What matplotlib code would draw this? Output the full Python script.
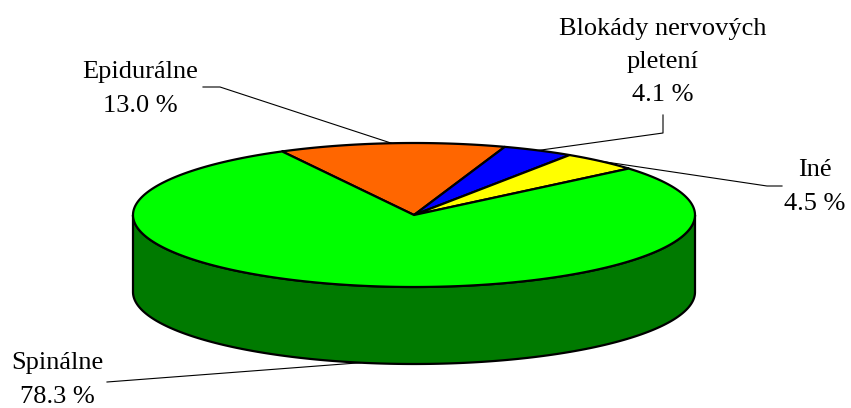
import numpy as np
import matplotlib.pyplot as plt
from matplotlib.patches import Polygon

# Data
labels = ["Epidurálne", "Blokády nervových\npletení", "Iné", "Spinálne"]
values = [13.0, 4.1, 4.5, 78.3]
top_colors = ["#FF6600", "#0000FF", "#FFFF00", "#00FF00"]
side_colors = ["#B34700", "#0000B3", "#B3B300", "#007A00"]

# geometry of the 3d pie (pixel units)
cx, cy = 414, 215
a, b = 281, 72
depth = 77
start = 118.0  # degrees, slices go clockwise

# label positions (block centers) and leader elbows
label_pos = [(140, 89), (663, 62), (815, 187), (57, 380)]
elbows = [[(203, 87), (220, 87)], [(663, 115), (663, 133)],
          [(782, 186), (767, 186)], [(107, 382)]]


def ell(t, dz=0):
    t = np.radians(t)
    return np.column_stack([cx + a * np.cos(t), cy - b * np.sin(t) + dz])


fig = plt.figure(figsize=(8.51, 4.08), dpi=100)
ax = fig.add_axes([0, 0, 1, 1])
ax.set_xlim(0, 851)
ax.set_ylim(408, 0)
ax.axis("off")

total = sum(values)
angles = []
t = start
for v in values:
    t2 = t - v / total * 360
    angles.append((t2, t))
    t = t2

# side walls (only front half 180..360 visible)
for (t1, t2), col in zip(angles, side_colors):
    for k in (-1, 0, 1):
        lo = max(t1, 180 + 360 * k - 360)
        hi = min(t2, 360 + 360 * k - 360)
        if hi > lo:
            ts = np.linspace(lo, hi, 200)
            pts = np.vstack([ell(ts), ell(ts[::-1], depth)])
            ax.add_patch(Polygon(pts, closed=True, fc=col, ec="black", lw=1.6, zorder=1))

# top face
for (t1, t2), col in zip(angles, top_colors):
    ts = np.linspace(t1, t2, 300)
    pts = np.vstack([[cx, cy], ell(ts)])
    ax.add_patch(Polygon(pts, closed=True, fc=col, ec="black", lw=1.6,
                         joinstyle="round", zorder=2))

# labels and leader lines
for i, (lab, v) in enumerate(zip(labels, values)):
    t1, t2 = angles[i]
    mid = (t1 + t2) / 2
    if i == 3:
        anchor = ell([mid], depth)[0]
    else:
        anchor = ell([mid])[0]
    path = np.array(elbows[i] + [tuple(anchor)])
    ax.plot(path[:, 0], path[:, 1], color="black", lw=0.8, zorder=3)
    x, y = label_pos[i]
    ax.text(x, y, f"{lab}\n{v:.1f} %", ha="center", va="center",
            multialignment="center", fontsize=19, family="Liberation Serif",
            linespacing=1.65, zorder=4)

fig.savefig("out.png", dpi=100)
